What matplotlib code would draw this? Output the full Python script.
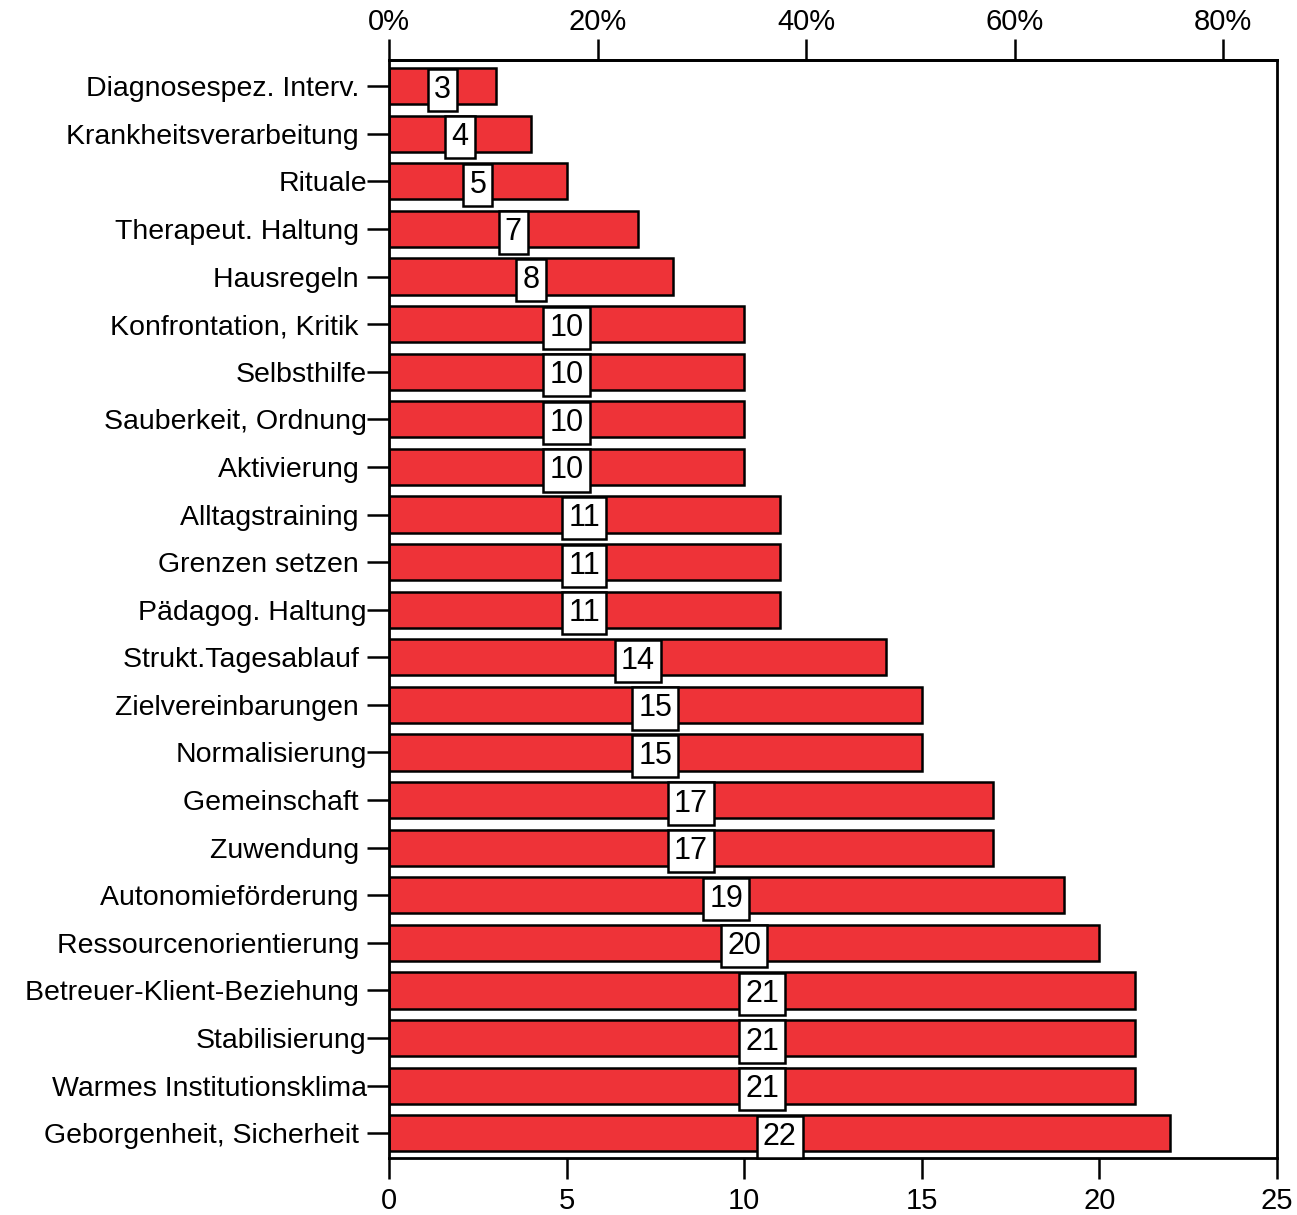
import matplotlib.pyplot as plt
from matplotlib.ticker import FuncFormatter

plt.rcParams['font.family'] = ['Liberation Sans', 'DejaVu Sans']

categories = [
    'Diagnosespez. Interv. ', 'Krankheitsverarbeitung ', 'Rituale',
    'Therapeut. Haltung ', 'Hausregeln ', 'Konfrontation, Kritik ',
    'Selbsthilfe', 'Sauberkeit, Ordnung', 'Aktivierung ', 'Alltagstraining ',
    'Grenzen setzen ', 'Pädagog. Haltung', 'Strukt.Tagesablauf ',
    'Zielvereinbarungen ', 'Normalisierung', 'Gemeinschaft ', 'Zuwendung ',
    'Autonomieförderung ', 'Ressourcenorientierung ',
    'Betreuer-Klient-Beziehung ', 'Stabilisierung', 'Warmes Institutionsklima',
    'Geborgenheit, Sicherheit ',
]
counts = [3, 4, 5, 7, 8, 10, 10, 10, 10, 11, 11, 11, 14, 15, 15, 17, 17, 19, 20, 21, 21, 21, 22]
total = 29.35  # number of respondents implied by the percent axis
x_ticks = [0, 5, 10, 15, 20, 25]
pct_ticks = [0, 20, 40, 60, 80]

fig = plt.figure(figsize=(12.97, 12.15), dpi=100)
ax = fig.add_axes([389/1297, 1 - 1158/1215, (1277-389)/1297, (1158-60)/1215])

y = list(range(len(categories)))
ax.barh(y, counts, height=0.76, color='#EE3338', edgecolor='black', linewidth=1.8)

for yi, c in zip(y, counts):
    ax.text(c / 2, yi, str(c), ha='center', va='center_baseline', fontsize=22,
            bbox=dict(boxstyle='square,pad=0.2', fc='white', ec='black', lw=1.8))

ax.set_xlim(0, 25)
ax.set_ylim(22.52, -0.55)
ax.set_yticks(y)
ax.set_yticklabels(categories, fontsize=20.5)
ax.set_xticks(x_ticks)
ax.tick_params(axis='x', labelsize=21, length=15, width=1.8, pad=6)
ax.tick_params(axis='y', length=16, width=1.8, pad=0)
for s in ax.spines.values():
    s.set_linewidth(2)

top = ax.secondary_xaxis('top', functions=(lambda v: v / total * 100, lambda p: p * total / 100))
top.set_xticks(pct_ticks)
top.xaxis.set_major_formatter(FuncFormatter(lambda v, pos: f'{v:.0f}%'))
top.tick_params(labelsize=21, length=15, width=1.8, pad=2)
top.spines['top'].set_linewidth(2)

fig.savefig('out.png', dpi=100)
